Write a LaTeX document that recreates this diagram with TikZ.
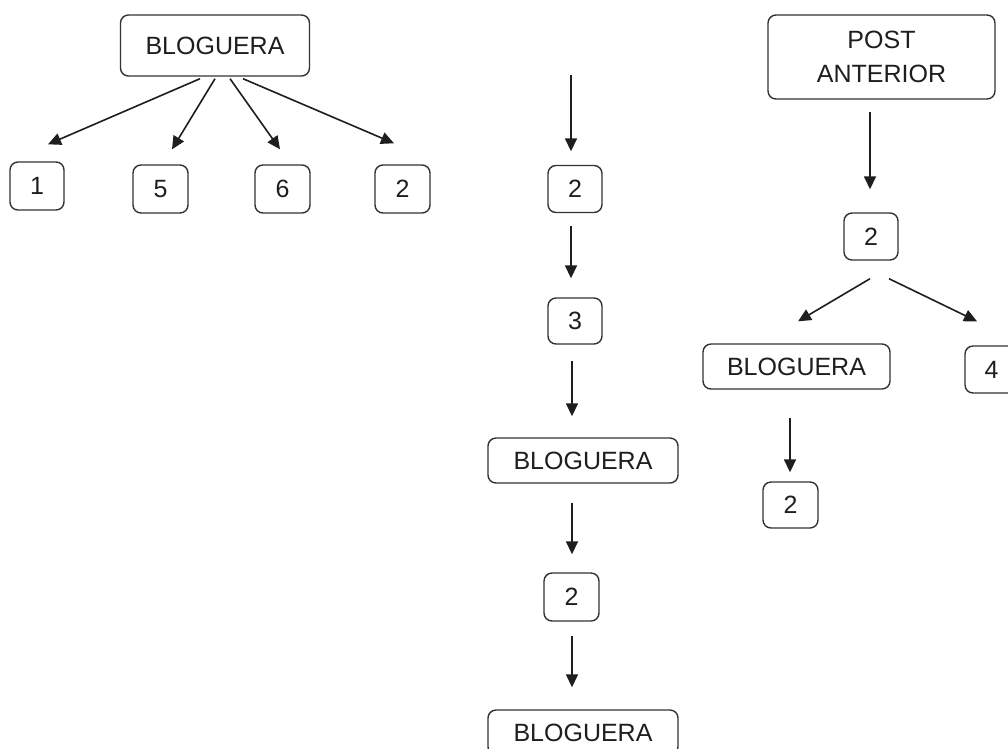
\documentclass[tikz,border=0pt]{standalone}
\usepackage{fontspec}
\setmainfont{Liberation Sans}
\usetikzlibrary{arrows.meta}
\definecolor{boxline}{HTML}{333333}
\definecolor{ink}{HTML}{1E1E1E}
\begin{document}
\begin{tikzpicture}[x=1pt,y=-1pt,
  box/.style={draw=boxline,line width=1.4pt,rounded corners=8pt,inner sep=0pt,
    align=center,text=ink,font=\fontsize{25}{34}\selectfont},
  arr/.style={draw=ink,line width=1.6pt,-{Triangle[length=13pt,width=12pt]}}]
\useasboundingbox (0,0) rectangle (1008,748);
\clip (0,0) rectangle (1008,748);
\fill[white] (0,0) rectangle (1008,748);
% left tree
\node[box,minimum width=189pt,minimum height=61pt] (b0) at (215,45.5) {BLOGUERA};
\node[box,minimum width=54pt,minimum height=48pt] (n1) at (37,186) {1};
\node[box,minimum width=55pt,minimum height=48pt] (n5) at (160.5,189) {5};
\node[box,minimum width=55pt,minimum height=48pt] (n6) at (282.5,189) {6};
\node[box,minimum width=55pt,minimum height=48pt] (n2) at (402.5,189) {2};
\draw[arr] ([xshift=-15pt,yshift=-2pt]b0.south) -- ([xshift=11pt,yshift=17pt]n1.north);
\draw[arr] ([yshift=-2pt]b0.south) -- ([xshift=11.5pt,yshift=15pt]n5.north);
\draw[arr] ([xshift=15pt,yshift=-2pt]b0.south) -- ([xshift=-2.5pt,yshift=15pt]n6.north);
\draw[arr] ([xshift=28pt,yshift=-2pt]b0.south) -- ([xshift=-8.5pt,yshift=21pt]n2.north);
% middle column
\coordinate (m0) at (571,75);
\node[box,minimum width=54pt,minimum height=47pt] (m1) at (575,189) {2};
\node[box,minimum width=54pt,minimum height=46pt] (m2) at (575,321) {3};
\node[box,minimum width=190pt,minimum height=45pt] (m3) at (583,460.5) {BLOGUERA};
\node[box,minimum width=55pt,minimum height=48pt] (m4) at (571.5,597) {2};
\node[box,minimum width=190pt,minimum height=45pt] (m5) at (583,732.5) {BLOGUERA};
\draw[arr] (m0) -- ([xshift=-4pt,yshift=13.5pt]m1.north);
\draw[arr] ([xshift=-4pt,yshift=-12.5pt]m1.south) -- ([xshift=-4pt,yshift=19pt]m2.north);
\draw[arr] ([xshift=-3pt,yshift=-16pt]m2.south) -- ([xshift=-11pt,yshift=21pt]m3.north);
\draw[arr] ([xshift=-11pt,yshift=-19pt]m3.south) -- ([xshift=0.5pt,yshift=18pt]m4.north);
\draw[arr] ([xshift=0.5pt,yshift=-14pt]m4.south) -- ([xshift=-11pt,yshift=22pt]m5.north);
% right tree
\node[box,minimum width=227pt,minimum height=84pt] (r0) at (881.5,57) {POST\\ANTERIOR};
\node[box,minimum width=54pt,minimum height=47pt] (r1) at (871,236.5) {2};
\node[box,minimum width=187pt,minimum height=45pt] (r2) at (796.5,366.5) {BLOGUERA};
\node[box,minimum width=53pt,minimum height=47pt] (r3) at (991.5,369.5) {4};
\node[box,minimum width=55pt,minimum height=46pt] (r4) at (790.5,505) {2};
\draw[arr] ([xshift=-11.5pt,yshift=-12pt]r0.south) -- ([xshift=-1pt,yshift=23pt]r1.north);
\draw[arr] ([xshift=-1pt,yshift=-18pt]r1.south) -- ([xshift=1.5pt,yshift=22pt]r2.north);
\draw[arr] ([xshift=18pt,yshift=-18pt]r1.south) -- ([xshift=-14.5pt,yshift=24pt]r3.north);
\draw[arr] ([xshift=-6.5pt,yshift=-28pt]r2.south) -- ([xshift=-0.5pt,yshift=9pt]r4.north);
\end{tikzpicture}
\end{document}
